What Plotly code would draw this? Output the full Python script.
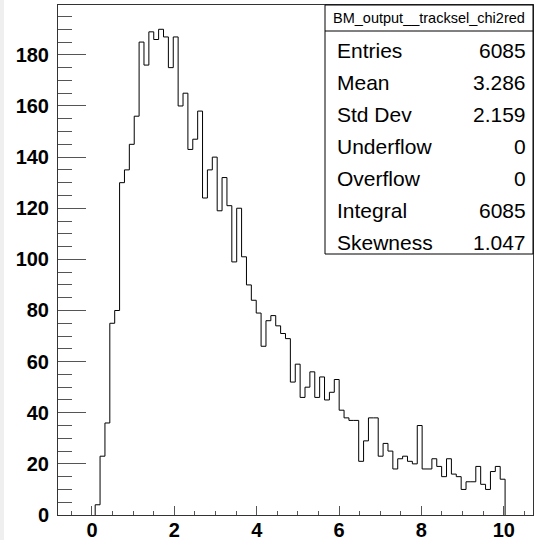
import numpy as np
import plotly.graph_objects as go

# ---- data ----
bin_low_edge = 0.078      # lower edge of first filled bin
bin_width = 0.1185
counts = [4, 23, 36, 75, 80, 130, 135, 145, 156, 185,
          176, 189, 186, 190, 187, 175, 187, 160, 165, 143,
          147, 158, 124, 135, 140, 119, 132, 121, 99, 120,
          101, 90, 84, 79, 66, 76, 78, 74, 71, 69,
          52, 59, 46, 50, 56, 46, 54, 45, 48, 53,
          41, 38, 37, 37, 21, 29, 38, 38, 23, 28,
          25, 18, 22, 23, 21, 20, 35, 18, 18, 22,
          19, 15, 22, 16, 15, 10, 13, 13, 19, 12,
          10, 17, 19, 14]
stat_names = ["Entries", "Mean", "Std Dev", "Underflow", "Overflow", "Integral", "Skewness"]
stat_values = ["6085", "3.286", "2.159", "0", "0", "6085", "1.047"]
hist_title = "BM_output__tracksel_chi2red"

# ---- build step outline ----
n = len(counts)
edges = bin_low_edge + bin_width * np.arange(n + 1)
xs = [edges[0]] + list(edges[:n]) + [edges[n]]
ys = [0] + list(counts) + [0]

W, H = 544, 540
L, R, T, B = 58, 11, 5, 25

fig = go.Figure()
fig.add_trace(go.Scatter(x=xs, y=ys, mode="lines", line=dict(color="black", width=1, shape="hv"),
                         hoverinfo="skip", showlegend=False))

axis_font = dict(family="Liberation Sans", size=20, color="black", weight="bold")
fig.update_layout(
    width=W, height=H,
    margin=dict(l=L, r=R, t=T, b=B, autoexpand=False),
    paper_bgcolor="white", plot_bgcolor="white",
    showlegend=False,
    xaxis=dict(range=[-0.825, 10.71], showgrid=False, zeroline=False, automargin=False,
               showline=True, linecolor="#333", linewidth=1, mirror=True,
               tickmode="linear", tick0=0, dtick=2,
               ticks="inside", ticklen=9, tickcolor="#555", tickwidth=1,
               ticklabelstandoff=-3,
               tickfont=axis_font,
               minor=dict(dtick=0.5, tick0=0, ticks="inside", ticklen=4.5, tickcolor="#555",
                          tickwidth=1, showgrid=False)),
    yaxis=dict(range=[0, 199.5], showgrid=False, zeroline=False, automargin=False,
               showline=True, linecolor="#333", linewidth=1, mirror=True,
               tickmode="linear", tick0=0, dtick=20,
               ticks="inside", ticklen=28, tickcolor="#555", tickwidth=1,
               ticklabelstandoff=4,
               tickfont=axis_font,
               minor=dict(dtick=5, tick0=0, ticks="inside", ticklen=14, tickcolor="#555",
                          tickwidth=1, showgrid=False)),
)

# ---- stats box (pixel positions converted to paper coords) ----
pw, ph = W - L - R, H - T - B
def px(x):
    return (x - L) / pw
def py(y):
    return 1 - (y - T) / ph

# light canvas border strip at the left edge
fig.add_shape(type="rect", xref="paper", yref="paper", x0=px(0), x1=px(4), y0=py(H), y1=py(0),
              line=dict(width=0), fillcolor="#efefef", layer="below")

bx0, bx1, by0, by1, bsep = 325, 533, 5, 254, 31
fig.add_shape(type="rect", xref="paper", yref="paper", x0=px(bx0), x1=px(bx1), y0=py(by1), y1=py(by0),
              line=dict(color="black", width=1), fillcolor="white", layer="above")
fig.add_shape(type="line", xref="paper", yref="paper", x0=px(bx0), x1=px(bx1), y0=py(bsep), y1=py(bsep),
              line=dict(color="black", width=1), layer="above")
fig.add_annotation(xref="paper", yref="paper", x=px((bx0 + bx1) / 2), y=py((by0 + bsep) / 2),
                   text=hist_title, showarrow=False, xanchor="center", yanchor="middle",
                   font=dict(family="Liberation Sans", size=14.5, color="black"))
first_row, row_h = 50, 32
for i, (nm, val) in enumerate(zip(stat_names, stat_values)):
    yc = first_row + row_h * i
    fig.add_annotation(xref="paper", yref="paper", x=px(bx0 + 10), y=py(yc), text=nm, showarrow=False,
                       xanchor="left", yanchor="middle",
                       font=dict(family="Liberation Sans", size=21, color="black"))
    fig.add_annotation(xref="paper", yref="paper", x=px(bx1 - 5), y=py(yc), text=val, showarrow=False,
                       xanchor="right", yanchor="middle",
                       font=dict(family="Liberation Sans", size=21, color="black"))

fig.write_html("out.html")
